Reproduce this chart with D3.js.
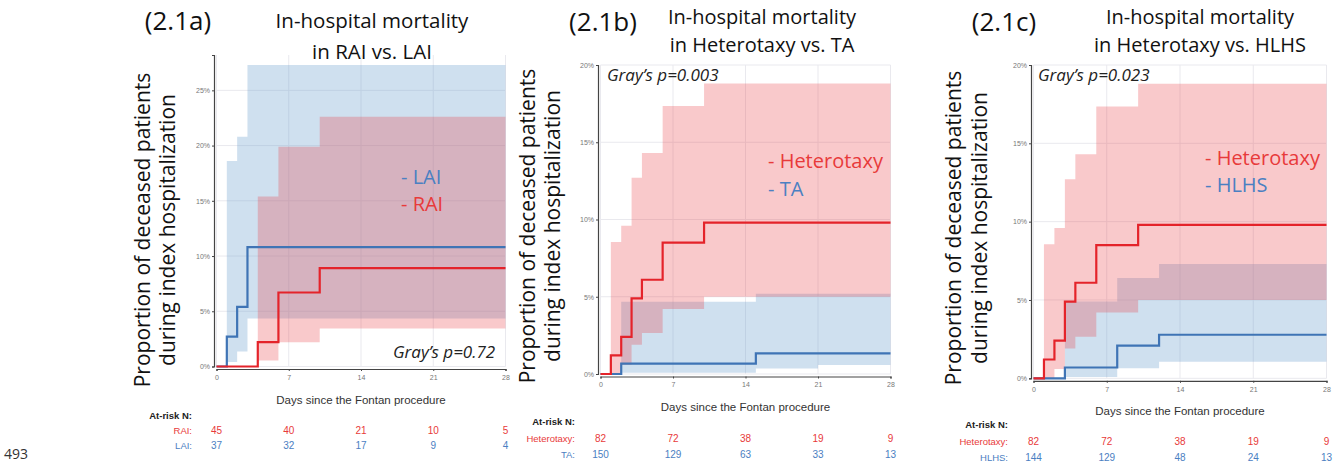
<!DOCTYPE html>
<html><head><meta charset="utf-8">
<script src="https://cdn.jsdelivr.net/npm/d3@7"></script>
<style>
html,body{margin:0;padding:0;background:#fff;}
svg{display:block;}
</style></head>
<body>
<svg id="chart" width="1340" height="465"></svg>
<script>
// ---------- DATA ----------
const dayTicks = [0, 7, 14, 21, 28];
const pctTicksA = [0, 5, 10, 15, 20, 25];
const pctTicksBC = [0, 5, 10, 15, 20];

// Panel 2.1a : RAI vs LAI
const laiT = [0, 1, 2, 3, 28];
const laiEst = [0, 2.7, 5.4, 10.8, 10.8];
const laiBandT = [1, 2, 3, 28];
const laiUpper = [18.6, 20.8, 27.3, 27.3];
const laiLower = [0.4, 1.35, 4.35, 4.35];

const raiT = [0, 4, 6, 10, 28];
const raiEst = [0, 2.2, 6.7, 8.9, 8.9];
const raiBandT = [4, 6, 10, 28];
const raiUpper = [15.4, 19.9, 22.6, 22.6];
const raiLower = [0.55, 2.2, 3.45, 3.45];

// Heterotaxy (panels 2.1b and 2.1c)
const hetT = [0, 1, 2, 3, 4, 6, 10, 28];
const hetEst = [0, 1.2, 2.4, 4.9, 6.1, 8.5, 9.8, 9.8];
const hetBandT = [1, 2, 3, 4, 6, 10, 28];
const hetUpper = [8.55, 9.6, 12.7, 14.3, 17.35, 18.8, 18.8];
const hetLower = [0.0, 0.6, 1.9, 2.65, 4.2, 5.0, 5.0];

// TA (panel 2.1b)
const taT = [0, 2, 15, 28];
const taEst = [0, 0.67, 1.33, 1.33];
const taBandT = [2, 15, 21, 28];
const taUpper = [4.68, 5.2, 5.2, 5.2];
const taLower = [0.08, 0.35, 0.58, 0.58];

// HLHS (panel 2.1c)
const hlhsT = [0, 3, 8, 12, 28];
const hlhsEst = [0, 0.69, 2.08, 2.78, 2.78];
const hlhsBandT = [3, 8, 12, 28];
const hlhsUpper = [4.9, 6.4, 7.3, 7.3];
const hlhsLower = [0.08, 0.64, 1.06, 1.06];

// At-risk tables
const riskRAI = [45, 40, 21, 10, 5];
const riskLAI = [37, 32, 17, 9, 4];
const riskHet = [82, 72, 38, 19, 9];
const riskTA = [150, 129, 63, 33, 13];
const riskHLHS = [144, 129, 48, 24, 13];

// ---------- STYLE ----------
const RED = "#e4232a", BLUE = "#3f74b5";
const REDTXT = "#e83a3a", BLUETXT = "#4b80c2";
const BANDBLUE = "rgb(110,160,205)", BANDRED = "rgb(232,60,68)";
const FONT = "'Open Sans', 'Noto Sans', sans-serif";
const AFONT = "'Liberation Sans', Arial, sans-serif";

const svg = d3.select("#chart");

function zipPts(t, v) { return t.map((d, i) => ({ t: d, v: v[i] })); }
function zipBand(t, lo, hi) { return t.map((d, i) => ({ t: d, lo: lo[i], hi: hi[i] })); }

function drawPanel(p) {
  const g = svg.append("g");
  const x = d3.scaleLinear().domain([0, 28]).range([p.x0, p.x1]);
  const y = d3.scaleLinear().domain([0, p.yMax]).range([p.y0, p.y1]);

  // grid
  g.append("g").selectAll("line.h").data(p.yTicks).join("line")
    .attr("x1", x(0)).attr("x2", x(28)).attr("y1", d => y(d)).attr("y2", d => y(d))
    .attr("stroke", "#e9e9ee").attr("stroke-width", 1);
  g.append("g").selectAll("line.v").data(dayTicks).join("line")
    .attr("x1", d => x(d)).attr("x2", d => x(d)).attr("y1", y(0)).attr("y2", y(p.yMax))
    .attr("stroke", "#e9e9ee").attr("stroke-width", 1);

  // bands
  const area = d3.area().x(d => x(d.t)).y0(d => y(d.lo)).y1(d => y(d.hi)).curve(d3.curveStepAfter);
  p.bands.forEach(b => {
    g.append("path").datum(zipBand(b.t, b.lo, b.hi)).attr("d", area)
      .attr("fill", b.color).attr("fill-opacity", b.op);
  });

  // axes
  const ya = g.append("g").attr("transform", `translate(${x(0) - 2.5},0)`)
    .call(d3.axisLeft(y).tickValues(p.yTicks).tickFormat(d => d + "%").tickSize(2).tickPadding(2));
  const xa = g.append("g").attr("transform", `translate(0,${y(0) + 2.5})`)
    .call(d3.axisBottom(x).tickValues(dayTicks).tickSize(2).tickPadding(4));
  [ya, xa].forEach(a => {
    a.select(".domain").attr("stroke", "#444").attr("stroke-width", 1.2);
    a.selectAll(".tick line").attr("stroke", "#444");
    a.selectAll(".tick text").attr("fill", "#777").attr("font-size", 7).attr("font-family", AFONT);
  });

  // lines
  const line = d3.line().x(d => x(d.t)).y(d => y(d.v)).curve(d3.curveStepAfter);
  p.lines.forEach(l => {
    g.append("path").datum(zipPts(l.t, l.v)).attr("d", line)
      .attr("fill", "none").attr("stroke", l.color).attr("stroke-width", 2.2);
  });

  // titles
  g.append("text").attr("x", p.tagX).attr("y", p.tagY).attr("text-anchor", "middle")
    .attr("font-family", FONT).attr("font-size", 26).attr("fill", "#111").text(p.tag);
  p.title.forEach((t, i) => {
    g.append("text").attr("x", p.titleX).attr("y", p.titleY[i]).attr("text-anchor", "middle")
      .attr("font-family", FONT).attr("font-size", p.titleSize).attr("fill", "#111").text(t);
  });

  // y title
  ["Proportion of deceased patients", "during index hospitalization"].forEach((t, i) => {
    g.append("text").attr("transform", `translate(${p.yTitleX[i]},${p.yTitleY}) rotate(-90)`)
      .attr("text-anchor", "middle").attr("font-family", FONT).attr("font-size", p.yTitleSize)
      .attr("fill", "#111").text(t);
  });

  // legend
  p.legend.forEach((l, i) => {
    g.append("text").attr("x", p.legX).attr("y", p.legY[i]).attr("font-family", FONT)
      .attr("font-size", 20).attr("fill", l.color).text(l.text);
  });

  // Gray's p
  g.append("text").attr("x", p.pX).attr("y", p.pY).attr("font-family", FONT)
    .attr("font-style", "italic").attr("font-size", 17).attr("fill", "#222").text(p.pText);

  // x title
  g.append("text").attr("x", (x(0) + x(28)) / 2).attr("y", p.xTitleY).attr("text-anchor", "middle")
    .attr("font-family", AFONT).attr("font-size", 11.5).attr("fill", "#333")
    .text("Days since the Fontan procedure");

  // risk table
  g.append("text").attr("x", p.riskLabelX).attr("y", p.riskY[0]).attr("text-anchor", "end")
    .attr("font-family", AFONT).attr("font-size", 9.5).attr("font-weight", "bold").attr("fill", "#222")
    .text("At-risk N:");
  p.risk.forEach((r, i) => {
    g.append("text").attr("x", p.riskLabelX).attr("y", p.riskY[i + 1]).attr("text-anchor", "end")
      .attr("font-family", AFONT).attr("font-size", 9.5).attr("fill", r.color).text(r.label);
    g.append("g").selectAll("text").data(r.vals).join("text")
      .attr("x", (d, j) => x(dayTicks[j])).attr("y", p.riskY[i + 1]).attr("text-anchor", "middle")
      .attr("font-family", AFONT).attr("font-size", 10).attr("fill", r.color).text(d => d);
  });
}

drawPanel({
  x0: 216.5, x1: 505.5, y0: 366.5, y1: 55, yMax: 28.2, yTicks: pctTicksA,
  bands: [
    { t: laiBandT, lo: laiLower, hi: laiUpper, color: BANDBLUE, op: 0.33 },
    { t: raiBandT, lo: raiLower, hi: raiUpper, color: BANDRED, op: 0.28 }
  ],
  lines: [{ t: laiT, v: laiEst, color: BLUE }, { t: raiT, v: raiEst, color: RED }],
  tag: "(2.1a)", tagX: 178, tagY: 30,
  title: ["In-hospital mortality", "in RAI vs. LAI"], titleX: 372, titleY: [28, 59], titleSize: 20.5,
  yTitleX: [150, 175], yTitleY: 230, yTitleSize: 21,
  legend: [{ text: "- LAI", color: BLUETXT }, { text: "- RAI", color: REDTXT }],
  legX: 401, legY: [184, 211],
  pText: "Gray\u2019s p=0.72", pX: 393, pY: 358,
  xTitleY: 404,
  riskLabelX: 192, riskY: [419, 434, 449],
  risk: [{ label: "RAI:", vals: riskRAI, color: REDTXT }, { label: "LAI:", vals: riskLAI, color: BLUETXT }]
});

drawPanel({
  x0: 600.5, x1: 890.5, y0: 374, y1: 65, yMax: 20, yTicks: pctTicksBC,
  bands: [
    { t: taBandT, lo: taLower, hi: taUpper, color: BANDBLUE, op: 0.33 },
    { t: hetBandT, lo: hetLower, hi: hetUpper, color: BANDRED, op: 0.28 }
  ],
  lines: [{ t: taT, v: taEst, color: BLUE }, { t: hetT, v: hetEst, color: RED }],
  tag: "(2.1b)", tagX: 603, tagY: 31,
  title: ["In-hospital mortality", "in Heterotaxy vs. TA"], titleX: 762, titleY: [24, 52], titleSize: 20,
  yTitleX: [535, 560], yTitleY: 226, yTitleSize: 21,
  legend: [{ text: "- Heterotaxy", color: REDTXT }, { text: "- TA", color: BLUETXT }],
  legX: 768, legY: [168, 196],
  pText: "Gray\u2019s p=0.003", pX: 607, pY: 81,
  xTitleY: 411,
  riskLabelX: 575, riskY: [425, 442, 458],
  risk: [{ label: "Heterotaxy:", vals: riskHet, color: REDTXT }, { label: "TA:", vals: riskTA, color: BLUETXT }]
});

drawPanel({
  x0: 1033.5, x1: 1326.5, y0: 378.3, y1: 65, yMax: 20, yTicks: pctTicksBC,
  bands: [
    { t: hlhsBandT, lo: hlhsLower, hi: hlhsUpper, color: BANDBLUE, op: 0.33 },
    { t: hetBandT, lo: hetLower, hi: hetUpper, color: BANDRED, op: 0.28 }
  ],
  lines: [{ t: hlhsT, v: hlhsEst, color: BLUE }, { t: hetT, v: hetEst, color: RED }],
  tag: "(2.1c)", tagX: 1004, tagY: 31,
  title: ["In-hospital mortality", "in Heterotaxy vs. HLHS"], titleX: 1200, titleY: [24, 52], titleSize: 20,
  yTitleX: [961, 987], yTitleY: 228, yTitleSize: 21,
  legend: [{ text: "- Heterotaxy", color: REDTXT }, { text: "- HLHS", color: BLUETXT }],
  legX: 1205, legY: [165, 192],
  pText: "Gray\u2019s p=0.023", pX: 1038, pY: 81,
  xTitleY: 415,
  riskLabelX: 1008, riskY: [428, 445, 461],
  risk: [{ label: "Heterotaxy:", vals: riskHet, color: REDTXT }, { label: "HLHS:", vals: riskHLHS, color: BLUETXT }]
});

// page number at the bottom-left corner
svg.append("text").attr("x", 4).attr("y", 459).attr("font-family", FONT)
  .attr("font-size", 14).attr("fill", "#333").text("493");
</script>
</body></html>
